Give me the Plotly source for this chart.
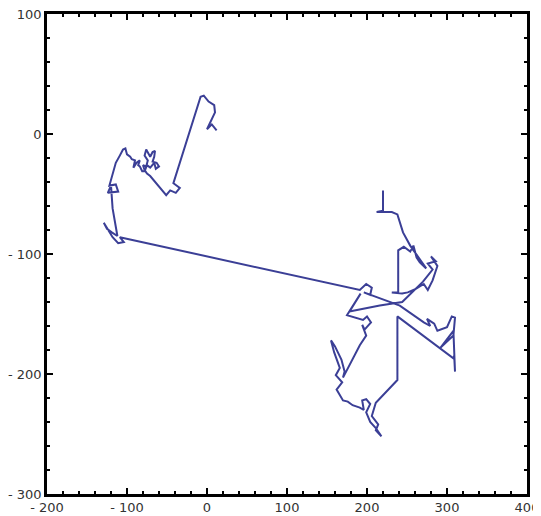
import plotly.graph_objects as go

# Random-walk path (data units)
walk_x = [12, 6, 0, 6, 10, 9, 2, -4, -8,
          -42, -34, -39, -46, -51, -56, -64, -71, -75, -78, -80, -76, -74, -78, -76, -73,
          -71, -68, -65, -66, -68, -63, -60, -64, -66, -71, -75, -78, -81, -84, -86, -84,
          -88, -92, -90, -94, -96, -100, -102, -105, -107, -109, -114,
          -119, -122, -114, -111, -124, -120, -118, -112, -119, -125, -129, -124,
          -118, -111, -104, -109,
          191, 199, 206, 204, 196, 241, 271, 279, 275, 284, 288, 300, 306, 310, 308,
          292, 308, 310, 309, 308, 238, 238, 211, 206, 214, 211, 218, 211, 204, 199,
          204, 199, 194, 196, 191, 182, 176, 170, 162, 169, 161, 166, 159, 155, 160,
          168, 172, 170, 182, 191, 199, 194, 197, 205, 200, 195, 186, 175, 192, 178,
          216, 244, 270, 276, 282, 276, 286, 280, 288, 282, 276, 271, 261, 251, 244,
          231, 239, 239, 246, 254, 258, 262, 266, 274, 269, 260, 254, 245, 238, 231,
          212, 220, 220]
walk_y = [3, 8, 4, 12, 18, 24, 27, 32, 31,
          -41, -45, -49, -47, -51, -47, -41, -35, -33, -30, -26, -27, -22, -18, -13, -17,
          -19, -15, -14, -19, -23, -24, -27, -29, -24, -28, -26, -31, -31, -27, -26, -22,
          -24, -28, -22, -21, -19, -17, -12, -13, -16, -18, -24,
          -35, -43, -42, -48, -49, -43, -62, -85, -82, -79, -74, -79,
          -86, -91, -90, -86,
          -130, -125, -128, -134, -132, -143, -157, -160, -154, -158, -164, -161, -152, -153, -168,
          -178, -164, -198, -185, -187, -152, -205, -224, -235, -242, -247, -252, -245, -240, -232,
          -225, -221, -222, -230, -228, -226, -223, -222, -213, -207, -201, -195, -182, -172, -177,
          -188, -198, -203, -188, -176, -168, -159, -163, -157, -152, -155, -153, -151, -133, -148,
          -143, -140, -123, -118, -113, -108, -106, -102, -110, -122, -130, -125, -129, -132, -133,
          -132, -132, -97, -94, -98, -93, -103, -107, -112, -107, -98, -93, -82, -67, -65,
          -65, -64, -47]

x_ticks = [-200, -100, 0, 100, 200, 300, 400]
x_labels = ["- 200", "- 100", "0", "100", "200", "300", "400"]
y_ticks = [-300, -200, -100, 0, 100]
y_labels = ["- 300", "- 200", "- 100", "0", "100"]

fig = go.Figure()
fig.add_trace(go.Scatter(
    x=walk_x, y=walk_y, mode="lines",
    line=dict(color="#3b3f96", width=2),
    hoverinfo="skip", showlegend=False,
))

axis_common = dict(
    showgrid=False, zeroline=False, automargin=False, ticklabeloverflow="allow",
    showline=True, linecolor="black", linewidth=2.5, mirror="ticks",
    ticks="inside", ticklen=6, tickwidth=2, tickcolor="black",
    tickfont=dict(family="DejaVu Sans", size=13, color="#333333"),
    minor=dict(ticks="inside", ticklen=3, tickwidth=1.5, tickcolor="black", dtick=20, showgrid=False),
)

fig.update_xaxes(range=[-200, 400], tickvals=x_ticks, ticktext=x_labels, ticklabelstandoff=0, **axis_common)
fig.update_yaxes(range=[-300, 100], tickvals=y_ticks, ticktext=y_labels, ticklabelstandoff=0, **axis_common)

# page body adds an 8px offset, so the figure is sized to fit the window
fig.update_layout(
    width=533, height=508,
    margin=dict(l=39, r=14, t=6, b=22),
    paper_bgcolor="white", plot_bgcolor="white",
)

fig.write_html("out.html")
